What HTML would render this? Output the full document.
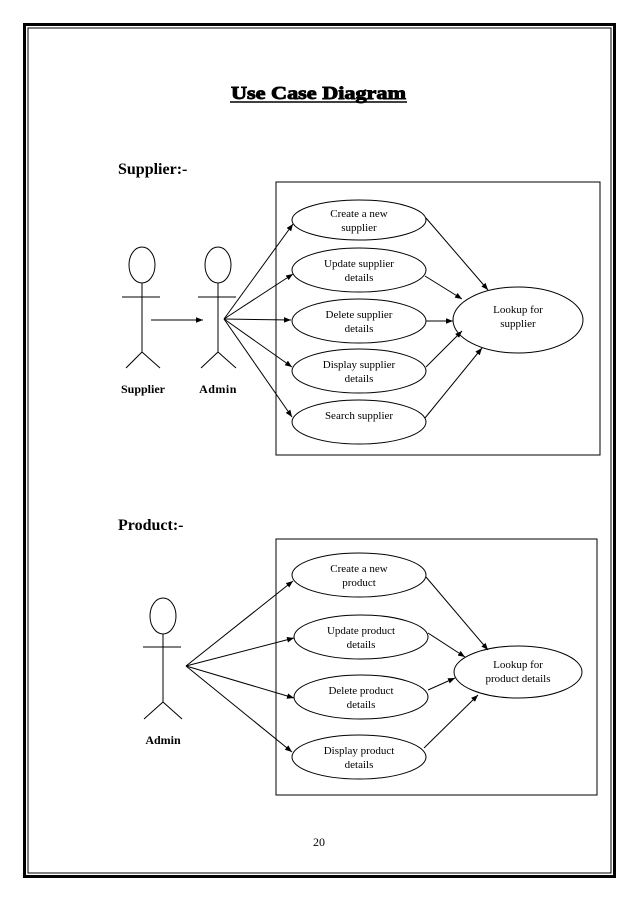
<!DOCTYPE html>
<html><head><style>
body{margin:0;background:#fff}
svg{display:block}
text{font-family:"Liberation Serif",serif;fill:#000}
</style></head><body>
<svg width="638" height="903" viewBox="0 0 638 903" xmlns="http://www.w3.org/2000/svg">
<defs>
<marker id="a" viewBox="0 0 10 10" refX="10" refY="5" markerWidth="7" markerHeight="7" orient="auto"><path d="M0,1 L10,5 L0,9 z" fill="#000"/></marker>
</defs>
<rect x="24.5" y="24.5" width="590" height="852" fill="none" stroke="#000" stroke-width="3"/>
<rect x="28" y="28" width="583" height="845" fill="none" stroke="#000" stroke-width="1"/>

<text x="231" y="99" font-size="18" font-weight="bold" stroke="#000" stroke-width="0.9" textLength="175" lengthAdjust="spacingAndGlyphs">Use Case Diagram</text>
<line x1="230" y1="102" x2="407" y2="102" stroke="#000" stroke-width="1.5"/>

<text x="118" y="174" font-size="16" font-weight="bold">Supplier:-</text>

<g fill="none" stroke="#000" stroke-width="1">
<rect x="276" y="182" width="324" height="273"/>
<ellipse cx="359" cy="220" rx="67" ry="20"/>
<ellipse cx="359" cy="270" rx="67" ry="22"/>
<ellipse cx="359" cy="321" rx="67" ry="22"/>
<ellipse cx="359" cy="371" rx="67" ry="22"/>
<ellipse cx="359" cy="422" rx="67" ry="22"/>
<ellipse cx="518" cy="320" rx="65" ry="33"/>
<ellipse cx="142" cy="265" rx="13" ry="18"/>
<line x1="122" y1="297" x2="160" y2="297"/>
<line x1="142" y1="283" x2="142" y2="352"/>
<line x1="142" y1="352" x2="126" y2="368"/><line x1="142" y1="352" x2="160" y2="368"/>
<ellipse cx="218" cy="265" rx="13" ry="18"/>
<line x1="198" y1="297" x2="236" y2="297"/>
<line x1="218" y1="283" x2="218" y2="352"/>
<line x1="218" y1="352" x2="201" y2="368"/><line x1="218" y1="352" x2="236" y2="368"/>
</g>
<g stroke="#000" stroke-width="1" marker-end="url(#a)">
<line x1="151" y1="320" x2="203" y2="320"/>
<line x1="224" y1="319" x2="293" y2="224"/>
<line x1="224" y1="319" x2="293" y2="274"/>
<line x1="224" y1="319" x2="291" y2="320"/>
<line x1="224" y1="319" x2="292" y2="367"/>
<line x1="224" y1="319" x2="292" y2="417"/>
<line x1="426" y1="218" x2="488" y2="290"/>
<line x1="425" y1="276" x2="462" y2="299"/>
<line x1="426" y1="321" x2="453" y2="321"/>
<line x1="426" y1="367" x2="462" y2="331"/>
<line x1="425" y1="418" x2="482" y2="348"/>
</g>
<g font-size="11" text-anchor="middle">
<text x="359" y="217">Create a new</text><text x="359" y="231">supplier</text>
<text x="359" y="267">Update supplier</text><text x="359" y="281">details</text>
<text x="359" y="318">Delete supplier</text><text x="359" y="332">details</text>
<text x="359" y="368">Display supplier</text><text x="359" y="382">details</text>
<text x="359" y="419">Search supplier</text>
<text x="518" y="313">Lookup for</text><text x="518" y="327">supplier</text>
</g>
<text x="143" y="393" font-size="12" font-weight="bold" text-anchor="middle">Supplier</text>
<text x="218" y="393" font-size="12" font-weight="bold" text-anchor="middle" letter-spacing="0.5">Admin</text>

<text x="118" y="530" font-size="16" font-weight="bold">Product:-</text>

<g fill="none" stroke="#000" stroke-width="1">
<rect x="276" y="539" width="321" height="256"/>
<ellipse cx="359" cy="575" rx="67" ry="22"/>
<ellipse cx="361" cy="637" rx="67" ry="22"/>
<ellipse cx="361" cy="697" rx="67" ry="22"/>
<ellipse cx="359" cy="757" rx="67" ry="22"/>
<ellipse cx="518" cy="672" rx="64" ry="26"/>
<ellipse cx="163" cy="616" rx="13" ry="18"/>
<line x1="143" y1="647" x2="181" y2="647"/>
<line x1="163" y1="634" x2="163" y2="702"/>
<line x1="163" y1="702" x2="144" y2="719"/><line x1="163" y1="702" x2="182" y2="719"/>
</g>
<g stroke="#000" stroke-width="1" marker-end="url(#a)">
<line x1="186" y1="666" x2="293" y2="581"/>
<line x1="186" y1="666" x2="294" y2="638"/>
<line x1="186" y1="666" x2="294" y2="698"/>
<line x1="186" y1="666" x2="292" y2="752"/>
<line x1="426" y1="577" x2="488" y2="650"/>
<line x1="428" y1="633" x2="465" y2="657"/>
<line x1="428" y1="690" x2="455" y2="678"/>
<line x1="424" y1="748" x2="478" y2="695"/>
</g>
<g font-size="11" text-anchor="middle">
<text x="359" y="572">Create a new</text><text x="359" y="586">product</text>
<text x="361" y="634">Update product</text><text x="361" y="648">details</text>
<text x="361" y="694">Delete product</text><text x="361" y="708">details</text>
<text x="359" y="754">Display product</text><text x="359" y="768">details</text>
<text x="518" y="668">Lookup for</text><text x="518" y="682">product details</text>
</g>
<text x="163" y="744" font-size="12" font-weight="bold" text-anchor="middle">Admin</text>

<text x="319" y="846" font-size="12" text-anchor="middle">20</text>
</svg>
</body></html>
